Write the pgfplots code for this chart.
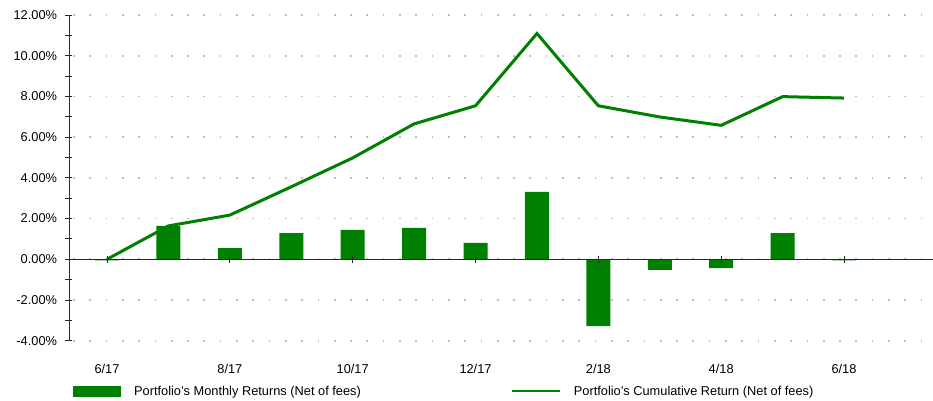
\documentclass[border=0pt]{standalone}
\usepackage{fontspec}
\setmainfont{Liberation Sans}
\usepackage{pgfplots}
\pgfplotsset{compat=1.18}
\definecolor{pgreen}{RGB}{0,128,0}
\definecolor{axisgray}{RGB}{40,40,40}
\begin{document}
\fontsize{12.8}{15}\selectfont
\begin{tikzpicture}
\path[use as bounding box] (-69pt,-60.3pt) rectangle (864pt,340.7pt);
\begin{axis}[
  at={(0,0)}, anchor=south west,
  scale only axis, width=861pt, height=325.7pt,
  xmin=-0.619, xmax=13.40, ymin=-4, ymax=12,
  axis y line*=left, axis x line*=bottom,
  x axis line style={draw=none},
  y axis line style={axisgray, line width=0.9pt},
  xtick={0,2,4,6,8,10,12},
  xticklabels={6/17,8/17,10/17,12/17,2/18,4/18,6/18},
  xtick style={draw=none},
  xticklabel style={yshift=-16pt, font=\fontsize{12.8}{15}\selectfont},
  ytick={-4,-2,0,2,4,6,8,10,12},
  yticklabels={-4.00\%,-2.00\%,0.00\%,2.00\%,4.00\%,6.00\%,8.00\%,10.00\%,12.00\%},
  yticklabel style={font=\fontsize{12.8}{15}\selectfont, xshift=-4pt},
  minor ytick={-3,-1,1,3,5,7,9,11},
  ytick style={axisgray, line width=0.9pt},
  tick align=center,
  major tick length=7pt, minor tick length=7pt,
  ymajorgrids,
  major grid style={gray!50, line width=1.7pt, dash pattern=on 1.7pt off 14.6pt, dash phase=-4pt},
  clip=false,
  legend columns=2,
  legend style={draw=none, fill=none, at={(rel axis cs:0.0046,-0.132)}, anchor=north west,
    font=\fontsize{12.8}{15}\selectfont,
    /tikz/every odd column/.append style={column sep=11pt},
    /tikz/every even column/.append style={column sep=148pt},
    inner sep=0pt, row sep=0pt},
  legend cell align=left,
]
\addplot[ybar, bar width=24pt, fill=pgreen, draw=none,
  legend image code/.code={\fill[pgreen] (0pt,-5.8pt) rectangle (48pt,5.8pt);}]
  coordinates {(0,-0.06) (1,1.64) (2,0.55) (3,1.29) (4,1.44) (5,1.54) (6,0.80)
               (7,3.31) (8,-3.28) (9,-0.52) (10,-0.43) (11,1.29) (12,-0.06)};
\addlegendentry{Portfolio's Monthly Returns (Net of fees)}
\addplot[pgreen, line width=3pt, no marks, line join=miter,
  legend image code/.code={\draw[pgreen, line width=2pt] (0pt,0pt) -- (48pt,0pt);}]
  coordinates {(0,0) (1,1.64) (2,2.17) (3,3.56) (4,4.98) (5,6.65) (6,7.54)
               (7,11.09) (8,7.54) (9,6.99) (10,6.58) (11,7.99) (12,7.92)};
\addlegendentry{Portfolio's Cumulative Return (Net of fees)}
\draw[axisgray, line width=0.9pt] (axis cs:-0.619,0) -- (axis cs:13.7,0);
\pgfplotsinvokeforeach{0,2,4,6,8,10,12}{
  \draw[axisgray, line width=0.9pt] (axis cs:#1,-0.17) -- (axis cs:#1,0.17);
}
\end{axis}
\end{tikzpicture}
\end{document}
